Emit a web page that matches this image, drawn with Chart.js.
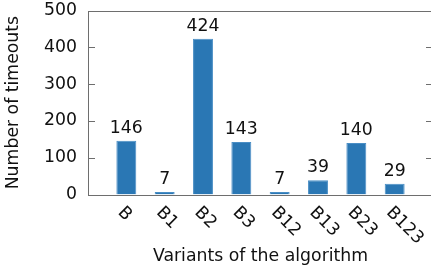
<!DOCTYPE html>
<html>
<head>
<meta charset="utf-8">
<script src="https://cdn.jsdelivr.net/npm/chart.js@4.4.1/dist/chart.umd.min.js"></script>
<style>
  html, body { margin: 0; padding: 0; background: #fff; overflow: hidden; }
  #wrap { width: 440px; height: 271px; }
</style>
</head>
<body>
<div id="wrap"><canvas id="chart" width="440" height="271"></canvas></div>
<script>
// chart data
const categories = ['B', 'B1', 'B2', 'B3', 'B12', 'B13', 'B23', 'B123'];
const timeouts = [146, 7, 424, 143, 7, 39, 140, 29];
const yTicks = [0, 100, 200, 300, 400, 500];

const FONT = 'DejaVu Sans';
const FSIZE = 17.3;
const TEXT = '#111';
const SPINE = '#6e6e6e';

// one empty slot each side, like the original x range
const labels = [''].concat(categories, ['']);
const values = [null].concat(timeouts, [null]);

// frame, inward y ticks, value labels and rotated x labels
const decorations = {
    id: 'decorations',
    afterDatasetsDraw(chart) {
        const ctx = chart.ctx;
        const area = chart.chartArea;
        const x = chart.scales.x;
        const y = chart.scales.y;

        ctx.save();
        ctx.strokeStyle = SPINE;
        ctx.lineWidth = 1;
        ctx.strokeRect(Math.round(area.left) + 0.5, Math.round(area.top) + 0.5,
            Math.round(area.right - area.left), Math.round(area.bottom - area.top));

        yTicks.forEach(t => {
            const py = Math.round(y.getPixelForValue(t)) + 0.5;
            ctx.beginPath();
            ctx.moveTo(area.left, py);
            ctx.lineTo(area.left + 7, py);
            ctx.moveTo(area.right, py);
            ctx.lineTo(area.right - 7, py);
            ctx.stroke();
        });

        ctx.fillStyle = TEXT;
        ctx.font = FSIZE + 'px "' + FONT + '"';
        ctx.textAlign = 'center';
        ctx.textBaseline = 'alphabetic';
        timeouts.forEach((v, i) => {
            const px = x.getPixelForValue(i + 1);
            ctx.fillText(String(v), px, y.getPixelForValue(v) - 8);
        });

        ctx.textAlign = 'left';
        categories.forEach((c, i) => {
            const px = x.getPixelForValue(i + 1);
            ctx.save();
            ctx.translate(px - 9, area.bottom + 18.5);
            ctx.rotate(Math.PI / 4);
            ctx.fillText(c, 0, 0);
            ctx.restore();
        });
        ctx.restore();
    }
};

new Chart(document.getElementById('chart'), {
    type: 'bar',
    data: {
        labels: labels,
        datasets: [{
            data: values,
            backgroundColor: '#2a77b4',
            borderColor: '#4a8ec5',
            borderWidth: 1,
            barPercentage: 0.52,
            categoryPercentage: 1
        }]
    },
    options: {
        responsive: false,
        animation: false,
        layout: { padding: { left: 0, top: 0, right: 7, bottom: 0 } },
        plugins: {
            legend: { display: false },
            tooltip: { enabled: false }
        },
        scales: {
            x: {
                offset: false,
                grid: { display: false, drawTicks: false },
                border: { display: false },
                ticks: { display: false },
                title: {
                    display: true,
                    text: 'Variants of the algorithm',
                    color: TEXT,
                    font: { family: FONT, size: FSIZE },
                    padding: { top: 0, bottom: 4 }
                },
                afterFit(scale) { scale.height = 76.5; }
            },
            y: {
                min: 0,
                max: 500,
                grid: { display: false, drawTicks: false },
                border: { display: false },
                ticks: {
                    stepSize: 100,
                    padding: 11,
                    color: TEXT,
                    font: { family: FONT, size: FSIZE }
                },
                title: {
                    display: true,
                    text: 'Number of timeouts',
                    color: TEXT,
                    font: { family: FONT, size: FSIZE },
                    padding: { top: 3, bottom: 0 }
                },
                afterFit(scale) {
                    scale.width = 88;
                    scale.paddingTop = 10.7;
                    scale.paddingBottom = 0;
                }
            }
        }
    },
    plugins: [decorations]
});
</script>
</body>
</html>
